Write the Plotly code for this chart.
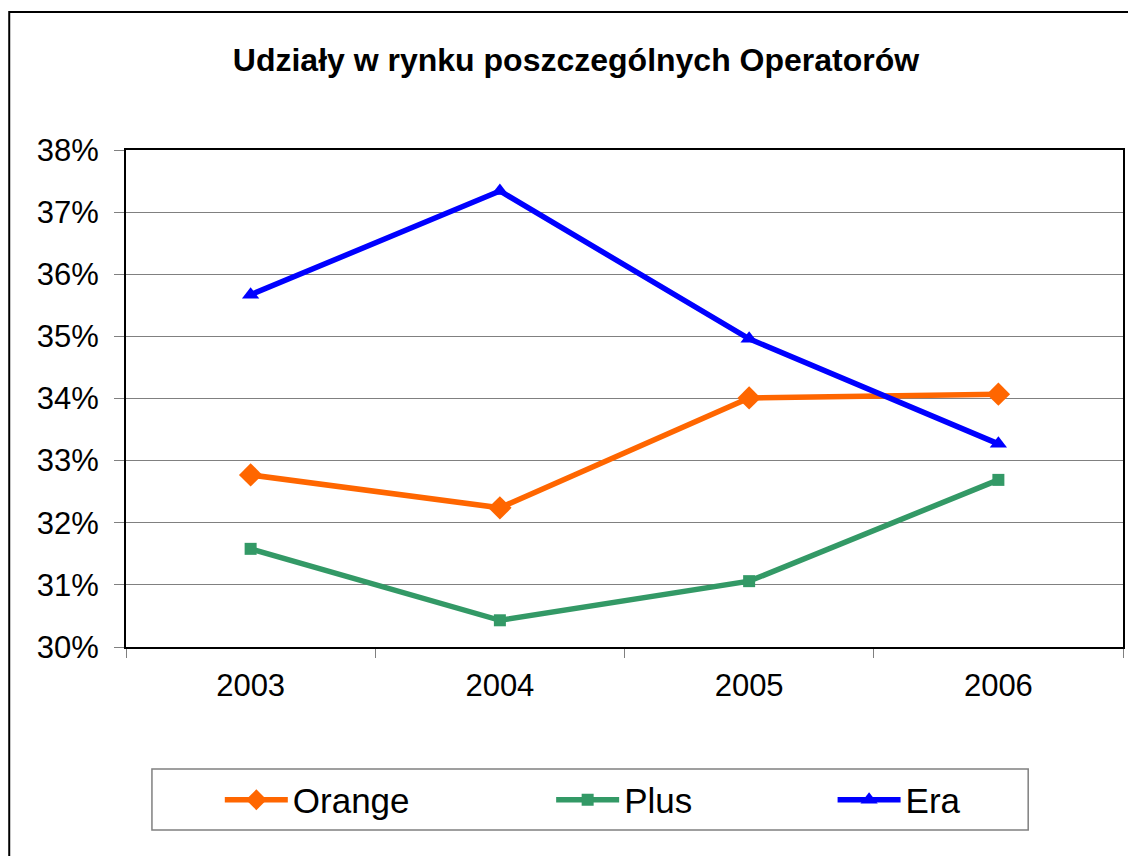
import plotly.graph_objects as go

# data
years = ["2003", "2004", "2005", "2006"]
orange = [0.3277, 0.3224, 0.3401, 0.3407]
plus = [0.3158, 0.3043, 0.3106, 0.3269]
era = [0.3567, 0.3734, 0.3496, 0.3327]

W, H = 1128, 856
L, R, T, B = 126, 3, 150, 856 - 647
pw, ph = W - L - R, H - T - B


# page pixel -> paper coordinate
def px(x):
    return (x - L) / pw


def py(y):
    return (H - B - y) / ph


font = "Arial, Liberation Sans, sans-serif"

fig = go.Figure()
fig.add_trace(go.Scatter(x=years, y=orange, name="Orange", mode="lines+markers",
                         line=dict(color="#FF6600", width=5.5),
                         marker=dict(symbol="diamond", size=18, color="#FF6600"),
                         legend="legend"))
fig.add_trace(go.Scatter(x=years, y=plus, name="Plus", mode="lines+markers",
                         line=dict(color="#339966", width=5.5),
                         marker=dict(symbol="square", size=12, color="#339966"),
                         legend="legend2"))
fig.add_trace(go.Scatter(x=years, y=era, name="Era", mode="lines+markers",
                         line=dict(color="#0000FF", width=5.5),
                         marker=dict(symbol="triangle-up", size=15, color="#0000FF"),
                         legend="legend3"))

leg = dict(orientation="h", bgcolor="rgba(0,0,0,0)", borderwidth=0,
           font=dict(family=font, size=35, color="black"), itemwidth=63,
           yanchor="middle", y=py(800), xanchor="left")

fig.update_layout(
    width=W, height=H,
    margin=dict(l=L, r=R, t=T, b=B),
    paper_bgcolor="white", plot_bgcolor="white",
    showlegend=True,
    title=dict(text="<b>Udziały w rynku poszczególnych Operatorów</b>",
               x=576 / W, xanchor="center", y=1 - 60 / H, yanchor="middle",
               font=dict(family=font, size=32, color="black")),
    legend=dict(leg, x=px(220)),
    legend2=dict(leg, x=px(552)),
    legend3=dict(leg, x=px(834)),
    xaxis=dict(type="category", range=[-0.5, 3.5], showgrid=False,
               ticks="outside", tickson="boundaries", ticklen=9, tickcolor="#808080",
               ticklabelstandoff=10,
               tickfont=dict(family=font, size=31, color="black"),
               showline=True, linecolor="black", linewidth=2, mirror=True),
    yaxis=dict(range=[0.30, 0.38], dtick=0.01, tickformat=".0%",
               showgrid=True, gridcolor="#808080", gridwidth=1,
               ticks="outside", ticklen=10, tickcolor="#808080",
               ticklabelstandoff=9,
               tickfont=dict(family=font, size=31, color="black"),
               showline=True, linecolor="black", linewidth=2, mirror=True,
               zeroline=False),
    shapes=[
        # outer chart frame
        dict(type="rect", xref="paper", yref="paper",
             x0=px(9), x1=px(1160), y0=py(900), y1=py(12),
             line=dict(color="black", width=2), layer="below"),
        # legend box
        dict(type="rect", xref="paper", yref="paper",
             x0=px(152), x1=px(1030), y0=py(830), y1=py(769),
             line=dict(color="#808080", width=1.5), layer="below"),
    ],
)

# drop the default 8px body margin so the figure fills the window exactly
fig.write_html("out.html", config={"displayModeBar": False},
               post_script="document.body.style.margin='0';document.body.style.overflow='hidden';")
